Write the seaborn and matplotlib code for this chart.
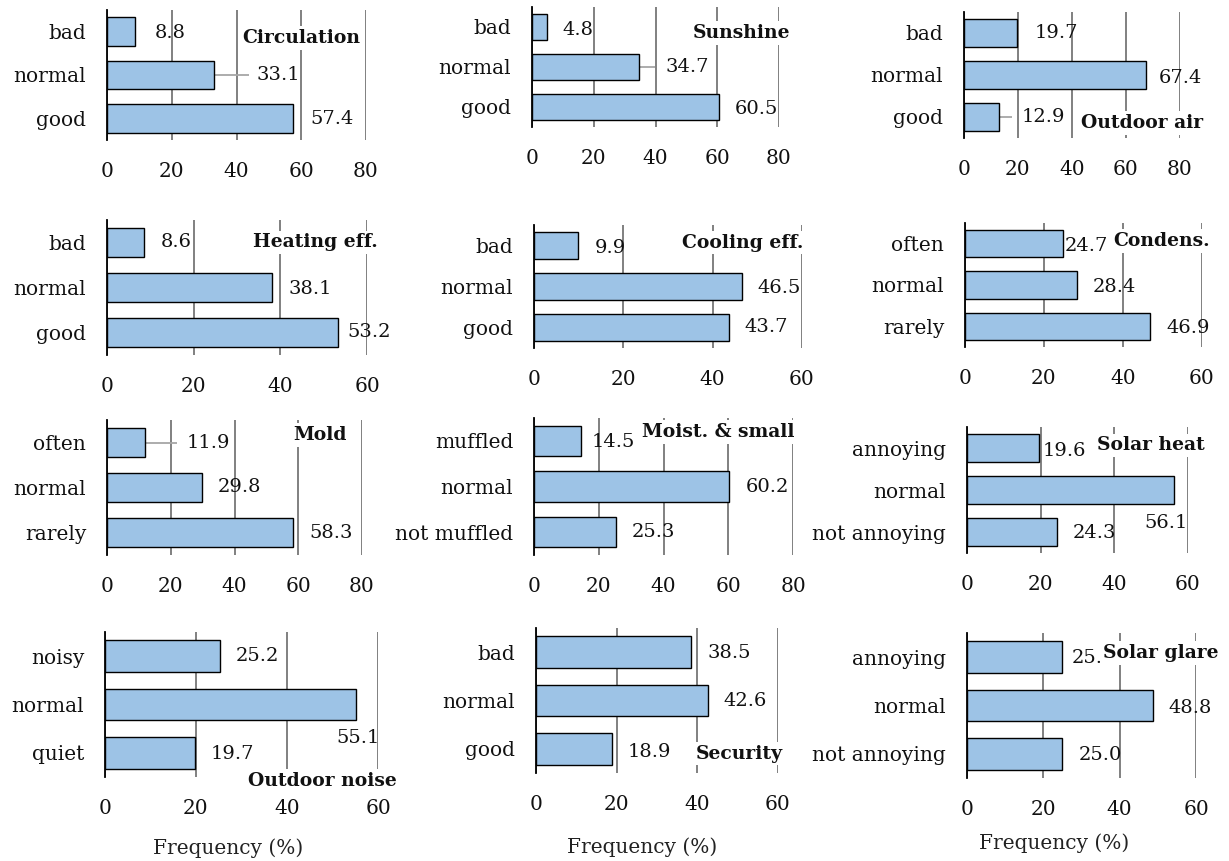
import matplotlib
matplotlib.use("Agg")
import matplotlib.pyplot as plt
import pandas as pd
import seaborn as sns

# ---- survey answers (% of respondents) ----
levels_quality = ["bad", "normal", "good"]
levels_often = ["often", "normal", "rarely"]
levels_muffled = ["muffled", "normal", "not muffled"]
levels_annoying = ["annoying", "normal", "not annoying"]
levels_noise = ["noisy", "normal", "quiet"]

circulation_pct = [8.8, 33.1, 57.4]
sunshine_pct = [4.8, 34.7, 60.5]
outdoor_air_pct = [19.7, 67.4, 12.9]
heating_pct = [8.6, 38.1, 53.2]
cooling_pct = [9.9, 46.5, 43.7]
condensation_pct = [24.7, 28.4, 46.9]
mold_pct = [11.9, 29.8, 58.3]
moisture_pct = [14.5, 60.2, 25.3]
solar_heat_pct = [19.6, 56.1, 24.3]
outdoor_noise_pct = [25.2, 55.1, 19.7]
security_pct = [38.5, 42.6, 18.9]
solar_glare_pct = [25.0, 48.8, 25.0]

panel_titles = ["Circulation", "Sunshine", "Outdoor air",
                "Heating eff.", "Cooling eff.", "Condens.",
                "Mold", "Moist. & small", "Solar heat",
                "Outdoor noise", "Security", "Solar glare"]
panel_levels = [levels_quality, levels_quality, levels_quality,
                levels_quality, levels_quality, levels_often,
                levels_often, levels_muffled, levels_annoying,
                levels_noise, levels_quality, levels_annoying]
panel_values = [circulation_pct, sunshine_pct, outdoor_air_pct,
                heating_pct, cooling_pct, condensation_pct,
                mold_pct, moisture_pct, solar_heat_pct,
                outdoor_noise_pct, security_pct, solar_glare_pct]
axis_max = [80, 80, 80, 60, 60, 60, 80, 80, 60, 60, 60, 60]
x_label = "Frequency (%)"

# ---- layout: axes boxes in pixels (left, right, top, bottom) ----
W, H = 1229, 861
boxes = [(107, 366, 10, 140), (532, 779, 7, 127), (964, 1180, 12, 138),
         (107, 367, 220, 355), (534, 802, 225, 348), (965, 1202, 223, 347),
         (107, 362, 420, 555), (534, 793, 418, 555), (967, 1188, 427, 553),
         (105, 378, 632, 777), (536, 778, 628, 773), (967, 1196, 633, 778)]

# value label anchors (x in data units, y in row units) per panel
label_pos = [
    [(14.8, 0.03), (46.3, 1.0), (62.7, 2.02)],
    [(10.0, 0.07), (43.1, 1.0), (65.7, 2.05)],
    [(26.3, 0.0), (72.2, 1.08), (21.5, 2.0)],
    [(12.5, 0.0), (41.8, 1.03), (55.4, 2.0)],
    [(13.7, 0.05), (50.1, 1.03), (47.2, 2.0)],
    [(25.3, 0.05), (32.4, 1.05), (51.1, 2.05)],
    [(25.1, 0.0), (34.8, 1.0), (63.4, 2.02)],
    [(17.9, 0.02), (65.5, 1.02), (30.3, 2.0)],
    [(20.4, 0.06), (48.1, 1.78), (28.8, 2.02)],
    [(28.8, 0.0), (50.8, 1.70), (23.3, 2.02)],
    [(42.4, 0.02), (46.4, 1.0), (22.8, 2.07)],
    [(27.5, 0.02), (52.9, 1.05), (29.3, 2.03)],
]
# leader lines: panel -> (row, end x)
leaders = {0: (1, 43.9), 1: (1, 39.8), 2: (2, 17.8), 6: (0, 22.0)}
# panel titles: right edge x (data) and row position
title_pos = [(78.1, 0.15), (83.6, 0.15), (88.5, 2.14),
             (62.5, 0.0), (60.2, -0.07), (62.0, -0.07),
             (75.3, -0.17), (80.6, -0.2), (64.6, -0.06),
             (64.2, 2.58), (61.2, 2.1), (65.8, -0.08)]
# x-axis label centres (axes fraction) on bottom row
xlabel_pos = {9: (0.45, -0.49), 10: (0.44, -0.51), 11: (0.38, -0.45)}

sns.set_theme(style="white")
plt.rcParams["font.family"] = ["DejaVu Serif"]

BAR = "#9DC3E6"
GRID = "#808080"
TXT = "#111111"
FS = 14.5
FS_VAL = 14
FS_TITLE = 13.5

fig = plt.figure(figsize=(W / 100, H / 100), dpi=100)
fig.patch.set_facecolor("white")

for i in range(12):
    l, r, t, b = boxes[i]
    ax = fig.add_axes([l / W, 1 - b / H, (r - l) / W, (b - t) / H])
    df = pd.DataFrame({"level": panel_levels[i], "pct": panel_values[i]})
    sns.barplot(data=df, x="pct", y="level", orient="h", ax=ax,
                color=BAR, saturation=1, width=0.66,
                edgecolor="black", linewidth=1.0, zorder=3)
    xmax = axis_max[i]
    ax.set_xlim(0, xmax)
    ax.set_ylim(2.5, -0.5)
    ax.set_xticks(range(0, xmax + 1, 20))
    ax.grid(axis="x", color=GRID, linewidth=1.4, zorder=0)
    ax.grid(axis="y", visible=False)
    ax.set_axisbelow(True)
    for side in ("top", "right", "bottom"):
        ax.spines[side].set_visible(False)
    ax.spines["left"].set_color("black")
    ax.spines["left"].set_linewidth(1.3)
    ax.spines["left"].set_zorder(4)
    ax.tick_params(axis="x", length=0, pad=16, labelsize=FS, labelcolor=TXT)
    ax.tick_params(axis="y", length=0, pad=15, labelsize=FS, labelcolor=TXT)
    ax.set_ylabel("")
    ax.set_xlabel("")
    ax.set_facecolor("none")

    # value labels
    for j, v in enumerate(panel_values[i]):
        lx, ly = label_pos[i][j]
        ax.text(lx, ly, f"{v:.1f}", ha="left", va="center", fontsize=FS_VAL,
                color=TXT, zorder=5, clip_on=False)
    if i in leaders:
        row, xe = leaders[i]
        ax.plot([panel_values[i][row], xe], [row, row], color="#A6A6A6",
                linewidth=1.3, zorder=2, solid_capstyle="butt")

    tx, ty = title_pos[i]
    ax.text(tx, ty, panel_titles[i], ha="right", va="center",
            fontsize=FS_TITLE, fontweight="bold", color=TXT, zorder=6,
            clip_on=False,
            bbox=dict(facecolor="white", edgecolor="none", pad=2))

    if i in xlabel_pos:
        ax.set_xlabel(x_label, fontsize=FS, color="#222222")
        ax.xaxis.label.set_va("center")
        ax.xaxis.set_label_coords(*xlabel_pos[i])

fig.savefig("out.png", dpi=100, facecolor="white")
